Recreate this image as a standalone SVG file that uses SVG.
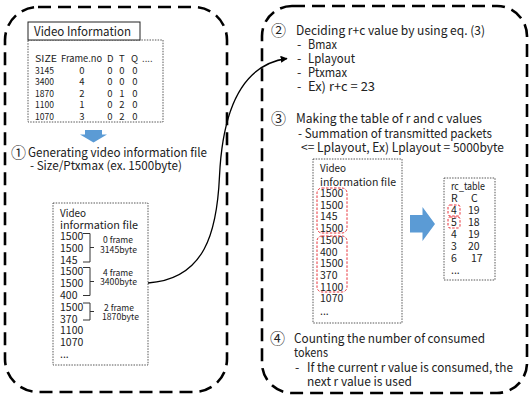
<svg xmlns="http://www.w3.org/2000/svg" width="531" height="399" viewBox="0 0 531 399">
<defs>
<style>
.big{fill:none;stroke:#000;stroke-width:2.6;stroke-dasharray:13 7}
.dot{fill:#fff;stroke:#444;stroke-width:0.9;stroke-dasharray:1.5 1.2}
.red{fill:none;stroke:#e8333a;stroke-width:1;stroke-dasharray:2.5 1.5}
.br{fill:none;stroke:#333;stroke-width:1}
.blue{fill:#5b9bd5}
text{font-family:"Noto Sans CJK KR","Noto Sans",sans-serif;fill:#222}
.t13{font-size:12.5px}
.t12{font-size:12px}
.t10{font-size:9.5px}
.t11{font-size:10.5px}
.t9{font-size:8.5px}
.cn{font-size:15px}
</style>
<marker id="ah" viewBox="0 0 10 10" refX="9" refY="5" markerWidth="7" markerHeight="7" orient="auto" markerUnits="userSpaceOnUse">
<path d="M0,0 L10,5 L0,10 z" fill="#000"/>
</marker>
</defs>
<rect width="531" height="399" fill="#fff"/>

<g id="left-panel">
<rect class="big" x="5" y="7" width="222" height="385" rx="33"/>
</g>
<g id="right-panel">
<rect class="big" x="262" y="6" width="265" height="387" rx="30"/>
</g>

<g id="video-info-table">
<rect class="dot" x="28" y="40" width="135" height="82"/>
<rect x="28" y="22" width="112" height="18" fill="#fff" stroke="#222" stroke-width="1"/>
<text class="t13" x="34" y="36" textLength="97" lengthAdjust="spacingAndGlyphs">Video Information</text>
<g class="t10">
<text x="35" y="62" textLength="22" lengthAdjust="spacingAndGlyphs">SIZE</text><text x="61" y="62" textLength="41" lengthAdjust="spacingAndGlyphs">Frame.no</text><text x="107" y="62">D</text><text x="119" y="62">T</text><text x="131" y="62">Q</text><text x="142" y="62">....</text>
<text x="35" y="73.5" textLength="19" lengthAdjust="spacingAndGlyphs">3145</text><text x="35" y="85" textLength="19" lengthAdjust="spacingAndGlyphs">3400</text><text x="35" y="96.5" textLength="19" lengthAdjust="spacingAndGlyphs">1870</text><text x="35" y="108" textLength="19" lengthAdjust="spacingAndGlyphs">1100</text><text x="35" y="119.5" textLength="19" lengthAdjust="spacingAndGlyphs">1070</text>
<g text-anchor="middle">
<text x="82" y="73.5">0</text><text x="82" y="85">4</text><text x="82" y="96.5">2</text><text x="82" y="108">1</text><text x="82" y="119.5">3</text>
<text x="110" y="73.5">0</text><text x="110" y="85">0</text><text x="110" y="96.5">0</text><text x="110" y="108">0</text><text x="110" y="119.5">0</text>
<text x="122" y="73.5">0</text><text x="122" y="85">0</text><text x="122" y="96.5">1</text><text x="122" y="108">2</text><text x="122" y="119.5">2</text>
<text x="135" y="73.5">0</text><text x="135" y="85">0</text><text x="135" y="96.5">0</text><text x="135" y="108">0</text><text x="135" y="119.5">0</text>
</g>
</g>
</g>

<g id="down-arrow">
<path class="blue" d="M85,130 H102 V134.5 H107 L93.5,142.5 L80,134.5 H85 Z"/>
</g>

<g id="step1">
<text class="cn" x="11" y="158">①</text>
<text class="t13" x="28" y="157" textLength="179" lengthAdjust="spacingAndGlyphs">Generating video information file</text>
<text class="t12" x="30" y="170" textLength="152" lengthAdjust="spacingAndGlyphs">- Size/Ptxmax  (ex. 1500byte)</text>
</g>

<g id="video-info-file-left">
<rect class="dot" x="53" y="203" width="95" height="162"/>
<g class="t11">
<text x="60" y="217" textLength="26" lengthAdjust="spacingAndGlyphs">Video</text>
<text x="60" y="228.5" textLength="78" lengthAdjust="spacingAndGlyphs">information  file</text>
<text x="60" y="240">1500</text>
<text x="60" y="251.8">1500</text>
<text x="60" y="263.6">145</text>
<text x="60" y="275.4">1500</text>
<text x="60" y="287.2">1500</text>
<text x="60" y="299">400</text>
<text x="60" y="310.8">1500</text>
<text x="60" y="322.6">370</text>
<text x="60" y="334.4">1100</text>
<text x="60" y="346.2">1070</text>
<text x="60" y="358">...</text>
</g>
<path class="br" d="M83,233.5 H90 V262 H83 M90,247.5 H94"/>
<path class="br" d="M83,267.5 H90 V295.5 H83 M90,281.5 H94"/>
<path class="br" d="M83,303 H90 V320 H83 M90,311.5 H94"/>
<g class="t9">
<text x="103" y="243" textLength="30" lengthAdjust="spacingAndGlyphs">0 frame</text>
<text x="100" y="253" textLength="37" lengthAdjust="spacingAndGlyphs">3145byte</text>
<text x="103" y="276" textLength="30" lengthAdjust="spacingAndGlyphs">4 frame</text>
<text x="100" y="285" textLength="37" lengthAdjust="spacingAndGlyphs">3400byte</text>
<text x="104" y="311" textLength="30" lengthAdjust="spacingAndGlyphs">2 frame</text>
<text x="102" y="320" textLength="37" lengthAdjust="spacingAndGlyphs">1870byte</text>
</g>
</g>

<g id="connectors">
<path d="M148,283 C205,279 217,232 219.5,176 C223,102 246,64 287,58.5" fill="none" stroke="#000" stroke-width="1.3" marker-end="url(#ah)"/>
</g>

<g id="step2">
<text class="cn" x="271" y="36">②</text>
<text class="t13" x="296" y="35" textLength="189" lengthAdjust="spacingAndGlyphs">Deciding r+c value by using eq. (3)</text>
<text class="t13" x="297" y="49">-</text><text class="t13" x="308" y="49" textLength="29" lengthAdjust="spacingAndGlyphs">Bmax</text>
<text class="t13" x="297" y="63">-</text><text class="t13" x="308" y="63" textLength="47" lengthAdjust="spacingAndGlyphs">Lplayout</text>
<text class="t13" x="297" y="77">-</text><text class="t13" x="308" y="77" textLength="39" lengthAdjust="spacingAndGlyphs">Ptxmax</text>
<text class="t13" x="297" y="91">-</text><text class="t13" x="308" y="91" textLength="67" lengthAdjust="spacingAndGlyphs">Ex) r+c = 23</text>
</g>

<g id="step3">
<text class="cn" x="271" y="124">③</text>
<text class="t13" x="296" y="123" textLength="186" lengthAdjust="spacingAndGlyphs">Making the table of r and c values</text>
<text class="t13" x="298" y="137.5" textLength="194" lengthAdjust="spacingAndGlyphs">- Summation of transmitted packets</text>
<text class="t13" x="301" y="152" textLength="203" lengthAdjust="spacingAndGlyphs">&lt;= Lplayout, Ex) Lplayout = 5000byte</text>
</g>

<g id="video-info-file-right">
<rect class="dot" x="313" y="159" width="89" height="164"/>
<g class="t11">
<text x="320" y="172" textLength="26" lengthAdjust="spacingAndGlyphs">Video</text>
<text x="320" y="185.5" textLength="76" lengthAdjust="spacingAndGlyphs">information  file</text>
<text x="320" y="197">1500</text>
<text x="320" y="208.7">1500</text>
<text x="320" y="220.4">145</text>
<text x="320" y="232.1">1500</text>
<text x="320" y="243.8">1500</text>
<text x="320" y="255.5">400</text>
<text x="320" y="267.2">1500</text>
<text x="320" y="278.9">370</text>
<text x="320" y="290.6">1100</text>
<text x="320" y="302.3">1070</text>
<text x="320" y="315">...</text>
</g>
<rect class="red" x="317" y="188" width="30" height="45" rx="5"/>
<rect class="red" x="317" y="236" width="30" height="56" rx="5"/>
</g>

<g id="right-arrow">
<path class="blue" d="M410,215 H422.5 V207 L435,224 L422.5,241 V232.5 H410 Z"/>
</g>

<g id="rc-table">
<rect class="dot" x="444" y="178" width="51" height="102"/>
<g class="t11">
<text x="451" y="190" textLength="34" lengthAdjust="spacingAndGlyphs">rc_table</text>
<text x="451" y="202">R</text><text x="471" y="202">C</text>
<text x="451" y="214">4</text><text x="468" y="214">19</text>
<text x="451" y="226">5</text><text x="468" y="226">18</text>
<text x="451" y="238">4</text><text x="468" y="238">19</text>
<text x="451" y="250">3</text><text x="468" y="250">20</text>
<text x="451" y="262">6</text><text x="471" y="262">17</text>
<text x="451" y="274">...</text>
</g>
<rect class="red" x="448" y="205" width="12" height="11" rx="2"/>
<rect class="red" x="448" y="217" width="12" height="11" rx="2"/>
</g>

<g id="step4">
<text class="cn" x="270" y="344">④</text>
<text class="t13" x="294" y="343" textLength="191" lengthAdjust="spacingAndGlyphs">Counting the number of consumed</text>
<text class="t13" x="294" y="357" textLength="34" lengthAdjust="spacingAndGlyphs">tokens</text>
<text class="t13" x="295" y="372">-</text>
<text class="t13" x="307" y="372" textLength="206" lengthAdjust="spacingAndGlyphs">If the current r value is consumed, the</text>
<text class="t13" x="307" y="386" textLength="105" lengthAdjust="spacingAndGlyphs">next r value is used</text>
</g>
</svg>
